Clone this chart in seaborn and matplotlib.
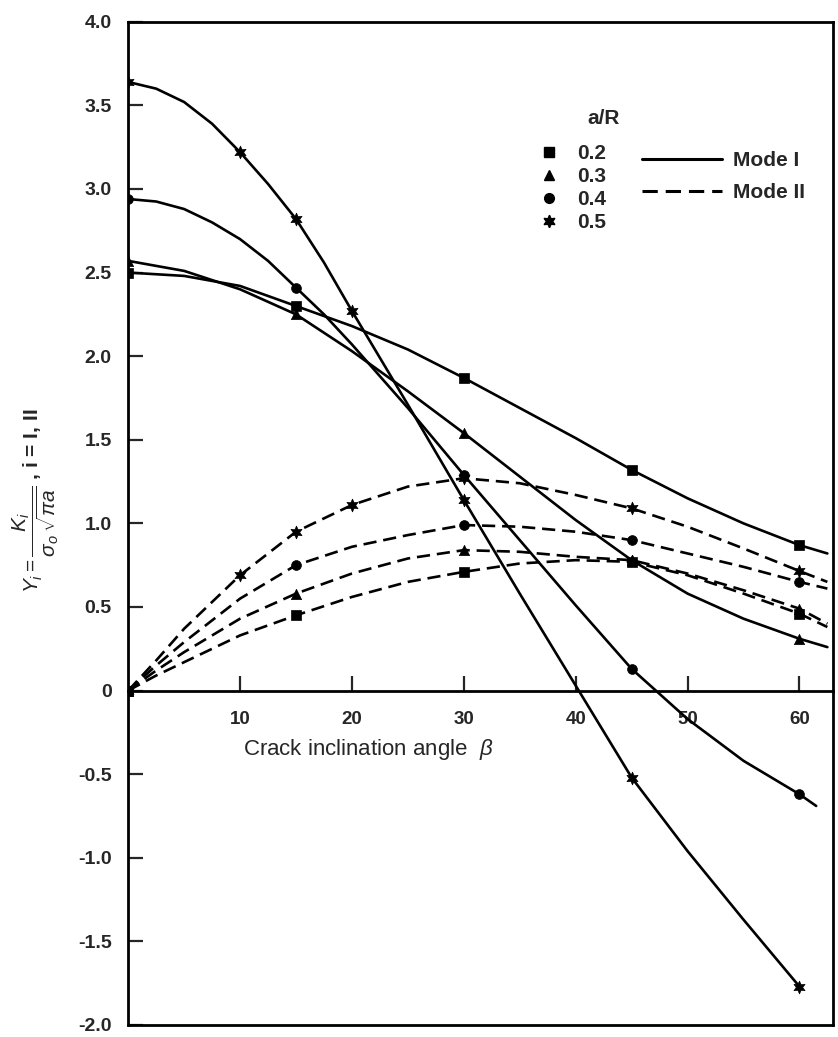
import numpy as np
import pandas as pd
import matplotlib
matplotlib.use("Agg")
import matplotlib.pyplot as plt
from matplotlib.lines import Line2D
import seaborn as sns

# ---------------- data ----------------
ratios = ["0.2", "0.3", "0.4", "0.5"]
modes = ["Mode I", "Mode II"]

# Mode I curves (a/R = 0.2 ... 0.5)
beta_m1_02 = [0, 5, 10, 15, 20, 25, 30, 35, 40, 45, 50, 55, 60, 62.5]
y_m1_02 = [2.50, 2.48, 2.42, 2.30, 2.18, 2.04, 1.87, 1.69, 1.51, 1.32, 1.15, 1.00, 0.87, 0.82]
beta_m1_03 = [0, 5, 10, 15, 20, 25, 30, 35, 40, 45, 50, 55, 60, 62.5]
y_m1_03 = [2.57, 2.51, 2.40, 2.25, 2.03, 1.79, 1.54, 1.28, 1.02, 0.78, 0.58, 0.43, 0.31, 0.26]
beta_m1_04 = [0, 2.5, 5, 7.5, 10, 12.5, 15, 17.5, 20, 25, 30, 35, 40, 45, 50, 55, 60, 61.5]
y_m1_04 = [2.94, 2.925, 2.88, 2.80, 2.70, 2.57, 2.41, 2.25, 2.07, 1.69, 1.29, 0.90, 0.51,
           0.13, -0.17, -0.42, -0.62, -0.69]
beta_m1_05 = [0, 2.5, 5, 7.5, 10, 12.5, 15, 17.5, 20, 25, 30, 35, 40, 45, 50, 55, 60]
y_m1_05 = [3.64, 3.60, 3.52, 3.39, 3.22, 3.03, 2.82, 2.56, 2.27, 1.71, 1.14, 0.58, 0.03,
           -0.52, -0.96, -1.37, -1.77]

# Mode II curves
beta_m2 = [0, 2.5, 5, 10, 15, 20, 25, 30, 35, 40, 45, 50, 55, 60, 62.5]
y_m2_02 = [0, 0.09, 0.17, 0.33, 0.45, 0.56, 0.65, 0.71, 0.76, 0.78, 0.77, 0.69, 0.58, 0.46, 0.38]
y_m2_03 = [0, 0.12, 0.23, 0.43, 0.58, 0.70, 0.79, 0.84, 0.83, 0.80, 0.78, 0.70, 0.60, 0.49, 0.40]
y_m2_04 = [0, 0.15, 0.29, 0.55, 0.75, 0.86, 0.93, 0.99, 0.98, 0.95, 0.90, 0.82, 0.74, 0.65, 0.61]
y_m2_05 = [0, 0.18, 0.37, 0.69, 0.95, 1.11, 1.22, 1.27, 1.24, 1.17, 1.09, 0.98, 0.85, 0.715, 0.65]

# angles at which symbols are drawn
marks_m1 = {"0.2": [0, 15, 30, 45, 60], "0.3": [0, 15, 30, 45, 60],
            "0.4": [0, 15, 30, 45, 60], "0.5": [0, 10, 15, 20, 30, 45, 60]}
marks_m2 = {"0.2": [0, 15, 30, 45, 60], "0.3": [0, 15, 30, 45, 60],
            "0.4": [0, 15, 30, 45, 60], "0.5": [0, 10, 15, 20, 30, 45, 60]}

ytick_vals = [4.0, 3.5, 3.0, 2.5, 2.0, 1.5, 1.0, 0.5, 0, -0.5, -1.0, -1.5, -2.0]
ytick_labels = ["4.0", "3.5", "3.0", "2.5", "2.0", "1.5", "1.0", "0.5", "0",
                "-0.5", "-1.0", "-1.5", "-2.0"]
xtick_vals = [10, 20, 30, 40, 50, 60]
xtick_labels = ["10", "20", "30", "40", "50", "60"]

# ---------------- assemble long-form tables ----------------
curves = {
    ("Mode I", "0.2"): (beta_m1_02, y_m1_02),
    ("Mode I", "0.3"): (beta_m1_03, y_m1_03),
    ("Mode I", "0.4"): (beta_m1_04, y_m1_04),
    ("Mode I", "0.5"): (beta_m1_05, y_m1_05),
    ("Mode II", "0.2"): (beta_m2, y_m2_02),
    ("Mode II", "0.3"): (beta_m2, y_m2_03),
    ("Mode II", "0.4"): (beta_m2, y_m2_04),
    ("Mode II", "0.5"): (beta_m2, y_m2_05),
}
rows, mrows = [], []
for (mode, r), (bx, by) in curves.items():
    lookup = dict(zip(bx, by))
    for b, v in zip(bx, by):
        rows.append({"beta": b, "Y": v, "mode": mode, "ratio": r, "curve": f"{mode}-{r}"})
    for b in (marks_m1 if mode == "Mode I" else marks_m2)[r]:
        mrows.append({"beta": b, "Y": lookup[b], "mode": mode, "ratio": r})
df = pd.DataFrame(rows)
dfm = pd.DataFrame(mrows)

# ---------------- style ----------------
sns.set_style("ticks")
plt.rcParams["font.family"] = ["Liberation Sans", "DejaVu Sans"]
plt.rcParams["mathtext.fontset"] = "custom"
plt.rcParams["mathtext.rm"] = "Liberation Sans"
plt.rcParams["mathtext.it"] = "Liberation Sans:italic"
plt.rcParams["mathtext.bf"] = "Liberation Sans:bold"

fig = plt.figure(figsize=(8.38, 10.37), dpi=100)
ax = fig.add_axes([0.153, 0.0116, 0.841, 0.9674])

marker_map = {"0.2": "s", "0.3": "^", "0.4": "o", "0.5": (6, 1, 0)}
size_map = {"0.2": 45, "0.3": 55, "0.4": 50, "0.5": 85}

sns.lineplot(data=df, x="beta", y="Y", units="curve", estimator=None,
             style="mode", dashes={"Mode I": "", "Mode II": (5, 2.6)},
             color="black", linewidth=1.9, sort=False, legend=False, ax=ax)
for r in ratios:
    sns.scatterplot(data=dfm[dfm["ratio"] == r], x="beta", y="Y",
                    marker=marker_map[r], s=size_map[r], color="black",
                    edgecolor="black", linewidth=0.5, legend=False, ax=ax,
                    zorder=5)

ax.set_xlim(0, 63)
ax.set_ylim(-2.0, 4.0)

# x axis drawn through Y = 0, frame closed at the bottom
ax.spines["bottom"].set_position(("data", 0))
for s in ["left", "right", "top", "bottom"]:
    ax.spines[s].set_linewidth(2.0)
    ax.spines[s].set_color("black")
ax.axhline(-2.0, color="black", lw=2.0, clip_on=False)

ax.set_xticks(xtick_vals)
ax.set_xticklabels(xtick_labels)
ax.set_yticks(ytick_vals)
ax.set_yticklabels(ytick_labels)
ax.tick_params(axis="x", direction="in", length=11, width=1.6, pad=15,
               labelsize=13.5)
ax.tick_params(axis="y", direction="in", length=11, width=1.6, pad=12,
               labelsize=14)
for lab in ax.get_xticklabels() + ax.get_yticklabels():
    lab.set_fontweight("bold")

ax.set_xlabel(r"Crack inclination angle  $\beta$", fontsize=16)
ax.xaxis.set_label_coords(0.34, 0.287)
ax.set_ylabel(r"$Y_i = \dfrac{K_i}{\sigma_o\,\sqrt{\pi a}}$ , i = I, II",
              fontsize=15, fontweight="bold")
ax.yaxis.set_label_coords(-0.096, 0.523)

# legends
ax.text(0.674, 0.904, "a/R", transform=ax.transAxes, ha="center",
        va="center", fontsize=15, fontweight="bold")
mk_handles = [Line2D([], [], ls="none", marker=marker_map[r], color="black",
                     markersize=(7 if r != "0.5" else 9)) for r in ratios]
leg1 = ax.legend(mk_handles, ratios, loc="upper left",
                 bbox_to_anchor=(0.556, 0.897), frameon=False,
                 handlelength=1.0, handletextpad=0.85, labelspacing=0.2,
                 prop={"size": 15, "weight": "bold"})
ax.add_artist(leg1)
ln_handles = [Line2D([], [], color="black", lw=2.2),
              Line2D([], [], color="black", lw=2.2, ls=(0, (5, 2.6)))]
ax.legend(ln_handles, modes, loc="upper left", bbox_to_anchor=(0.702, 0.890),
          frameon=False, handlelength=3.85, handletextpad=0.53,
          labelspacing=0.65, prop={"size": 15, "weight": "bold"})

fig.savefig("out.png", dpi=100)
